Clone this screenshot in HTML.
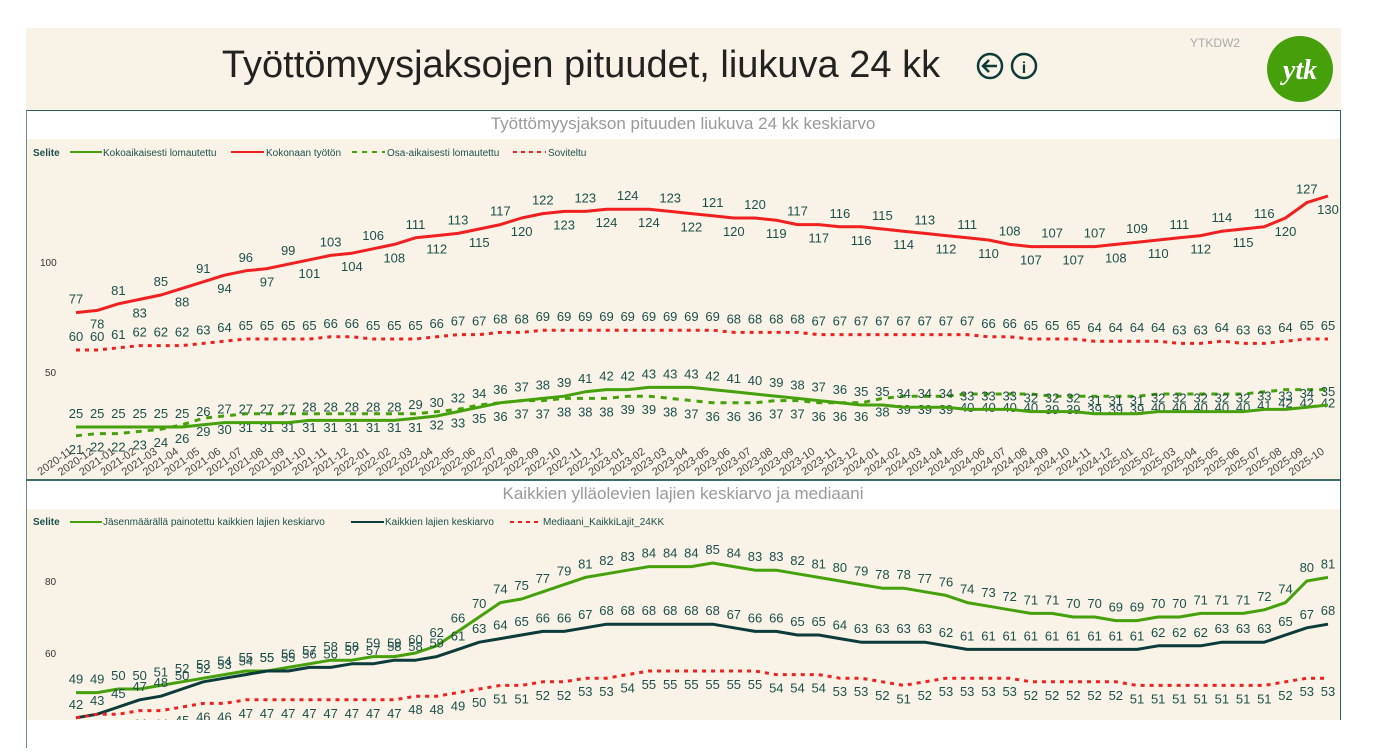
<!DOCTYPE html>
<html><head><meta charset="utf-8"><style>
body{margin:0;background:#fff;width:1384px;height:748px;overflow:hidden;font-family:"Liberation Sans",sans-serif}
</style></head><body>
<svg id="s" width="1384" height="748" xmlns="http://www.w3.org/2000/svg" font-family="Liberation Sans, sans-serif">
<defs><clipPath id="c2"><rect x="27" y="509" width="1313" height="211"/></clipPath></defs>
<rect x="26" y="28" width="1315" height="82" fill="#f8f3e6"/>
<text x="581" y="77" font-size="38" text-anchor="middle" fill="#222">Työttömyysjaksojen pituudet, liukuva 24 kk</text>
<circle cx="990" cy="66" r="12" fill="none" stroke="#0d3b3b" stroke-width="2.5"/>
<path d="M997 66H983M989 60L983 66L989 72" fill="none" stroke="#0d3b3b" stroke-width="2.5"/>
<circle cx="1024" cy="66" r="12" fill="none" stroke="#0d3b3b" stroke-width="2.5"/>
<text x="1024" y="73" font-size="16" font-weight="bold" text-anchor="middle" fill="#0d3b3b">i</text>
<text x="1190" y="47" font-size="12" fill="#aaa">YTKDW2</text>
<circle cx="1300" cy="69" r="33" fill="#45a00c"/>
<text x="1300" y="79" font-size="28" font-style="italic" font-weight="bold" text-anchor="middle" fill="#fff" font-family="Liberation Serif, serif">ytk</text>
<rect x="26" y="110" width="1314" height="28" fill="#fff"/>
<rect x="27" y="139" width="1313" height="341" fill="#f8f3e6"/>
<rect x="26" y="481" width="1314" height="28" fill="#fff"/>
<rect x="27" y="509" width="1313" height="211" fill="#f8f3e6"/>
<line x1="26" y1="110.5" x2="1340" y2="110.5" stroke="#2d5f5f"/>
<line x1="26.5" y1="110" x2="26.5" y2="748" stroke="#6a8f8f"/>
<line x1="1340.5" y1="110" x2="1340.5" y2="720" stroke="#2d5f5f"/>
<line x1="26" y1="480" x2="1340" y2="480" stroke="#3f6b6b" stroke-width="2"/>
<text x="683" y="129" font-size="17" text-anchor="middle" fill="#999">Työttömyysjakson pituuden liukuva 24 kk keskiarvo</text>
<text x="683" y="499" font-size="17" text-anchor="middle" fill="#999">Kaikkien ylläolevien lajien keskiarvo ja mediaani</text>
<g font-size="10" fill="#1d4f4f">
<text x="33" y="156" font-weight="bold">Selite</text>
<line x1="70" y1="152" x2="102" y2="152" stroke="#45a00c" stroke-width="2"/><text x="103" y="156">Kokoaikaisesti lomautettu</text>
<line x1="231" y1="152" x2="264" y2="152" stroke="#f02020" stroke-width="2"/><text x="266" y="156">Kokonaan työtön</text>
<line x1="352" y1="152" x2="385" y2="152" stroke="#45a00c" stroke-width="2" stroke-dasharray="5,5"/><text x="387" y="156">Osa-aikaisesti lomautettu</text>
<line x1="513" y1="152" x2="546" y2="152" stroke="#f02020" stroke-width="2" stroke-dasharray="4,4"/><text x="548" y="156">Soviteltu</text>
<text x="33" y="525" font-weight="bold">Selite</text>
<line x1="70" y1="522" x2="102" y2="522" stroke="#45a00c" stroke-width="2"/><text x="103" y="525">Jäsenmäärällä painotettu kaikkien lajien keskiarvo</text>
<line x1="351" y1="522" x2="384" y2="522" stroke="#0d3b3b" stroke-width="2"/><text x="385" y="525">Kaikkien lajien keskiarvo</text>
<line x1="510" y1="522" x2="542" y2="522" stroke="#f02020" stroke-width="2" stroke-dasharray="4,4"/><text x="543" y="525">Mediaani_KaikkiLajit_24KK</text>
</g>
<g font-size="10" fill="#333">
<text x="40" y="266">100</text><text x="45" y="376">50</text>
<text x="45" y="585">80</text><text x="45" y="657">60</text>
</g>
<g id="g"></g>
<g id="g2" clip-path="url(#c2)"></g>
</svg>
<script>
var X=function(i){return 76+i*21.22};
var Y1=function(v){return 262+(100-v)*2.2};
var Y2=function(v){return 653+(60-v)*3.6};
var red=[77,78,81,83,85,88,91,94,96,97,99,101,103,104,106,108,111,112,113,115,117,120,122,123,123,124,124,124,123,122,121,120,120,119,117,117,116,116,115,114,113,112,111,110,108,107,107,107,107,108,109,110,111,112,114,115,116,120,127,130];
var sov=[60,60,61,62,62,62,63,64,65,65,65,65,66,66,65,65,65,66,67,67,68,68,69,69,69,69,69,69,69,69,69,68,68,68,68,67,67,67,67,67,67,67,67,66,66,65,65,65,64,64,64,64,63,63,64,63,63,64,65,65];
var gs=[25,25,25,25,25,25,26,27,27,27,27,28,28,28,28,28,29,30,32,34,36,37,38,39,41,42,42,43,43,43,42,41,40,39,38,37,36,35,35,34,34,34,33,33,33,32,32,32,31,31,31,32,32,32,32,32,33,33,34,35];
var gd=[21,22,22,23,24,26,29,30,31,31,31,31,31,31,31,31,31,32,33,35,36,37,37,38,38,38,39,39,38,37,36,36,36,37,37,36,36,36,38,39,39,39,40,40,40,40,39,39,39,39,39,40,40,40,40,40,41,42,42,42];
var w=[49,49,50,50,51,52,53,54,55,55,56,57,58,58,59,59,60,62,66,70,74,75,77,79,81,82,83,84,84,84,85,84,83,83,82,81,80,79,78,78,77,76,74,73,72,71,71,70,70,69,69,70,70,71,71,71,72,74,80,81];
var a=[42,43,45,47,48,50,52,53,54,55,55,56,56,57,57,58,58,59,61,63,64,65,66,66,67,68,68,68,68,68,68,67,66,66,65,65,64,63,63,63,63,62,61,61,61,61,61,61,61,61,61,62,62,62,63,63,63,65,67,68];
var m=[42,43,43,44,44,45,46,46,47,47,47,47,47,47,47,47,48,48,49,50,51,51,52,52,53,53,54,55,55,55,55,55,55,54,54,54,53,53,52,51,52,53,53,53,53,52,52,52,52,52,51,51,51,51,51,51,51,52,53,53];
var h='',h2='';
function line(d,Y,c,dash,above,two){var o='';var p=d.map(function(v,i){return X(i).toFixed(1)+','+Y(v).toFixed(1)}).join(' ');
o+='<polyline points="'+p+'" fill="none" stroke="'+c+'" stroke-width="3" '+(dash?'stroke-dasharray="'+dash+'"':'')+' stroke-linejoin="round"/>';
d.forEach(function(v,i){var dy=(above===1||(above===0&&i%2==0))?-9:18;o+='<text x="'+X(i).toFixed(1)+'" y="'+(Y(v)+dy).toFixed(1)+'" font-size="13" text-anchor="middle" fill="#1d4f4f">'+v+'</text>';});
if(two)h2+=o;else h+=o;}
line(red,Y1,'#f02020',null,0);
line(sov,Y1,'#f02020','4,5',1);
line(gd,Y1,'#45a00c','6,6',2);
line(gs,Y1,'#45a00c',null,1);
line(w,Y2,'#45a00c',null,1,1);
line(a,Y2,'#0d3b3b',null,1,1);
line(m,Y2,'#f02020','4,5',2,1);
for(var i=0;i<60;i++){var y=2020+Math.floor((10+i)/12),mo=(10+i)%12+1;var s=y+'-'+(mo<10?'0':'')+mo;
h+='<text transform="translate('+(X(i)-3).toFixed(1)+',453) rotate(-35)" font-size="11" text-anchor="end" fill="#444">'+s+'</text>';}
document.getElementById('g').innerHTML=h;
document.getElementById('g2').innerHTML=h2;
</script>
</body></html>
